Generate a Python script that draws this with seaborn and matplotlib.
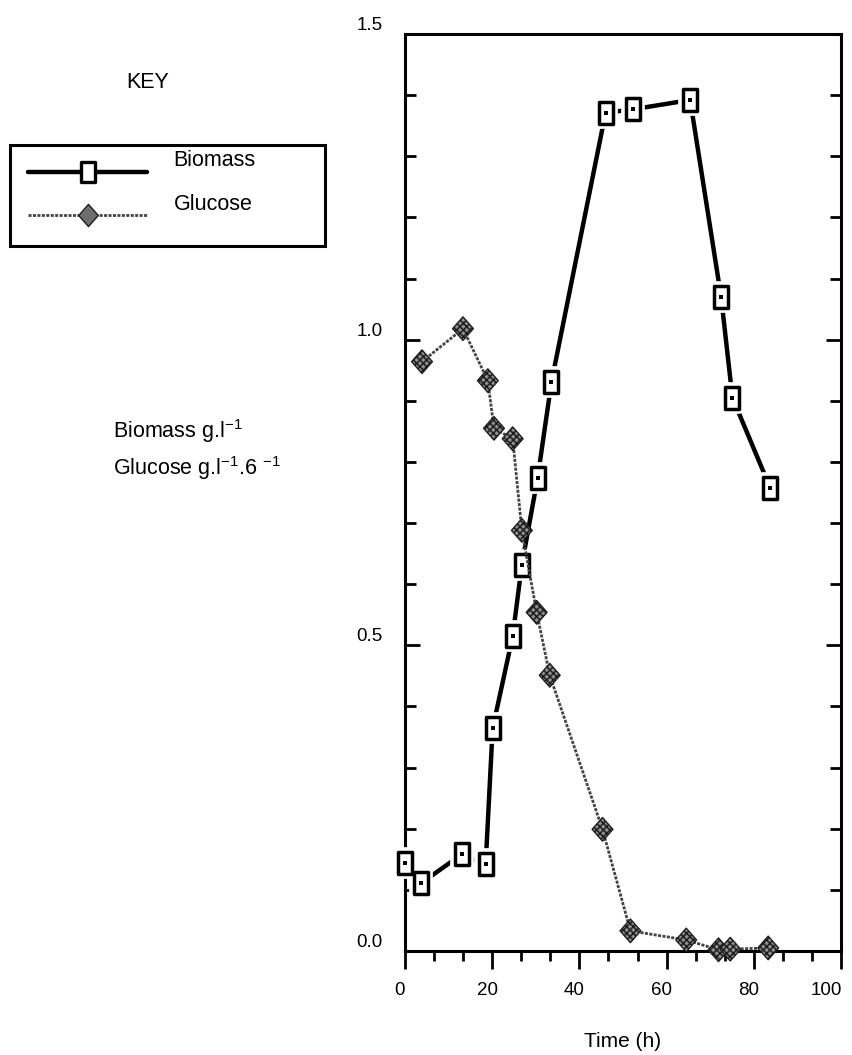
import matplotlib
matplotlib.use("Agg")
import matplotlib.pyplot as plt
import seaborn as sns
from matplotlib.path import Path
from matplotlib.lines import Line2D
from matplotlib.ticker import MultipleLocator, FormatStrFormatter
from matplotlib.transforms import ScaledTranslation

# ---- data -------------------------------------------------------------
biomass_time = [0.0, 3.7, 13.0, 18.5, 20.1, 24.7, 26.8, 30.4, 33.6, 46.0, 52.4, 65.4, 72.5, 75.1, 83.8]
biomass = [0.144, 0.111, 0.158, 0.142, 0.364, 0.515, 0.632, 0.773, 0.931,
           1.371, 1.377, 1.392, 1.070, 0.905, 0.757]

glucose_time = [3.9, 13.3, 19.0, 20.4, 24.7, 26.8, 30.2, 33.2, 45.3, 51.7, 64.5, 71.9, 74.6, 83.3]
glucose = [0.964, 1.018, 0.933, 0.855, 0.838, 0.688, 0.554, 0.451, 0.199,
           0.033, 0.018, 0.002, 0.003, 0.005]

x_ticks = [0, 20, 40, 60, 80, 100]
y_ticks = [0.0, 0.5, 1.0, 1.5]

# ---- style ------------------------------------------------------------
sns.set_style("white")
plt.rcParams["font.family"] = ["Liberation Sans", "DejaVu Sans"]
plt.rcParams["mathtext.fontset"] = "custom"
plt.rcParams["mathtext.rm"] = "Liberation Sans"
plt.rcParams["mathtext.it"] = "Liberation Sans:italic"
plt.rcParams["mathtext.bf"] = "Liberation Sans:bold"
plt.rcParams["hatch.linewidth"] = 1.1
for key in ("text.color", "axes.labelcolor", "xtick.color", "ytick.color"):
    plt.rcParams[key] = "black"

W, H = 853, 1055
fig = plt.figure(figsize=(W / 100, H / 100), dpi=100)
ax = fig.add_axes([405 / W, 1 - 951 / H, 436 / W, 917 / H])

# tall open box marker for biomass
box = Path([(-0.34, -0.5), (0.34, -0.5), (0.34, 0.5), (-0.34, 0.5), (-0.34, -0.5)],
           [Path.MOVETO, Path.LINETO, Path.LINETO, Path.LINETO, Path.CLOSEPOLY])
# slightly tall diamond for glucose
diamond = Path([(0, -0.5), (0.44, 0), (0, 0.5), (-0.44, 0), (0, -0.5)],
               [Path.MOVETO, Path.LINETO, Path.LINETO, Path.LINETO, Path.CLOSEPOLY])

BOX_MS = 15.5
DIA_MS = 17.0
gluc_line = dict(color="#444444", lw=2.0, dashes=(1.1, 0.5))

# biomass: heavy line, white halo around each box, box, centre dot
sns.lineplot(x=biomass_time, y=biomass, ax=ax, color="black", lw=3.2,
             sort=False, zorder=2)
sns.scatterplot(x=biomass_time, y=biomass, ax=ax, marker=box, s=BOX_MS ** 2,
                color="white", edgecolor="white", linewidth=7, zorder=3, clip_on=False)
sns.scatterplot(x=biomass_time, y=biomass, ax=ax, marker=box, s=BOX_MS ** 2,
                color="white", edgecolor="black", linewidth=2.5, zorder=4, clip_on=False)
sns.scatterplot(x=biomass_time, y=biomass, ax=ax, marker="s", s=5,
                color="black", edgecolor="black", linewidth=0, zorder=5, clip_on=False)

# glucose: fine dotted line with hatched diamonds
sns.lineplot(x=glucose_time, y=glucose, ax=ax, sort=False, zorder=6, **gluc_line)
sns.scatterplot(x=glucose_time, y=glucose, ax=ax, marker=diamond, s=DIA_MS ** 2,
                color="#8f8f8f", edgecolor="#1e1e1e", linewidth=1.0, hatch="xxxxx",
                zorder=7, clip_on=False)

# ---- axes -------------------------------------------------------------
ax.set_xlim(0, 100)
ax.set_ylim(0, 1.5)
ax.set_xticks(x_ticks)
ax.set_yticks(y_ticks)
ax.xaxis.set_minor_locator(MultipleLocator(20 / 3))
ax.yaxis.set_minor_locator(MultipleLocator(0.1))
ax.yaxis.set_major_formatter(FormatStrFormatter("%.1f"))

for s in ax.spines.values():
    s.set_linewidth(2.2)
    s.set_color("black")

ax.tick_params(axis="x", which="both", direction="out", bottom=True, top=False,
               width=2.0, color="black", labelsize=13.5)
ax.tick_params(axis="x", which="major", length=13, pad=9)
ax.tick_params(axis="x", which="minor", length=7.5)
ax.tick_params(axis="y", which="both", direction="in", left=True, right=True,
               width=2.0, color="black", labelsize=13.5, pad=16)
ax.tick_params(axis="y", which="major", length=11)
ax.tick_params(axis="y", which="minor", length=8)

for lbl in ax.get_yticklabels():
    lbl.set_va("bottom")
xlabels = ax.get_xticklabels()
for lbl in xlabels:
    lbl.set_transform(lbl.get_transform() + ScaledTranslation(-0.05, 0, fig.dpi_scale_trans))
xlabels[-1].set_ha("right")
xlabels[-1].set_transform(xlabels[-1].get_transform() + ScaledTranslation(0.06, 0, fig.dpi_scale_trans))

ax.set_xlabel("Time (h)", fontsize=15, labelpad=24)
ax.set_ylabel("")

# ---- key --------------------------------------------------------------
fig.text(148 / W, 1 - 83 / H, "KEY", fontsize=15.5, ha="center", va="center")

handles = [
    Line2D([], [], color="black", lw=3.2, marker=box, markersize=BOX_MS - 1,
           markerfacecolor="white", markeredgecolor="black", markeredgewidth=2.4),
    Line2D([], [], marker=diamond, markersize=DIA_MS - 1, markerfacecolor="#6e6e6e",
           markeredgecolor="#1e1e1e", markeredgewidth=1.0, **gluc_line),
]
leg = fig.legend(handles, ["Biomass", "Glucose"], loc="upper left",
                 bbox_to_anchor=(10 / W, 1 - 240 / H, 315 / W, 95 / H),
                 mode="expand", borderaxespad=0, fontsize=15.5,
                 handlelength=5.5, handletextpad=1.25, borderpad=0.85,
                 labelspacing=1.05, fancybox=False, framealpha=1,
                 edgecolor="black")
leg.get_frame().set_linewidth(2.2)
for t in leg.get_texts():
    t.set_y(13)

# ---- quantity labels ---------------------------------------------------
fig.text(113 / W, 1 - 438 / H, r"Biomass g.l$^{-1}$", fontsize=15.5,
         ha="left", va="baseline")
fig.text(113 / W, 1 - 475 / H, r"Glucose g.l$^{-1}$.6 $^{-1}$", fontsize=15.5,
         ha="left", va="baseline")

fig.savefig("out.png", dpi=100)
